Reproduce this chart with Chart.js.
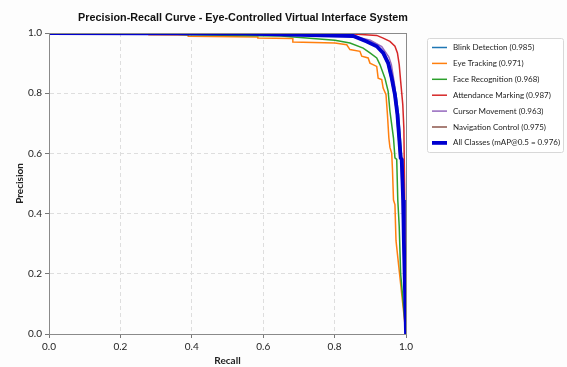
<!DOCTYPE html>
<html>
<head>
<meta charset="utf-8">
<script src="https://cdn.jsdelivr.net/npm/chart.js@4/dist/chart.umd.min.js"></script>
<style>
  html, body { margin: 0; padding: 0; background: #fdfdfd; }
  #wrap { width: 567px; height: 367px; position: relative; }
</style>
</head>
<body>
<div id="wrap"><canvas id="chart-pr"></canvas></div>
<script>
// Precision-Recall curves, values
const chartTitle = 'Precision-Recall Curve - Eye-Controlled Virtual Interface System';
const classNames = ['Blink Detection', 'Eye Tracking', 'Face Recognition', 'Attendance Marking',
    'Cursor Movement', 'Navigation Control'];
const classAP = [0.985, 0.971, 0.968, 0.987, 0.963, 0.975];
const mapAll = 0.976;

const xTicks = [0, 0.2, 0.4, 0.6, 0.8, 1.0];
const yTicks = [0, 0.2, 0.4, 0.6, 0.8, 1.0];

const blinkRecall    = [0, 0.6, 0.855, 0.893, 0.921, 0.939, 0.953, 0.963, 0.972, 0.979, 0.984, 0.988, 0.991, 0.994, 0.996, 1.0];
const blinkPrecision = [1, 0.998, 0.99, 0.972, 0.956, 0.934, 0.90, 0.85, 0.795, 0.729, 0.651, 0.585, 0.58, 0.445, 0.31, 0];

const eyeRecall    = [0, 0.1, 0.28, 0.28, 0.39, 0.39, 0.585, 0.585, 0.683, 0.683, 0.801, 0.834, 0.843, 0.871, 0.876, 0.894, 0.899, 0.918, 0.922, 0.932, 0.936, 0.944, 0.948, 0.952, 0.955, 0.96, 0.962, 0.965, 0.969, 0.972, 1.0];
const eyePrecision = [1, 0.999, 0.997, 0.994, 0.993, 0.989, 0.987, 0.983, 0.982, 0.97, 0.967, 0.961, 0.945, 0.939, 0.923, 0.917, 0.90, 0.889, 0.85, 0.845, 0.817, 0.795, 0.729, 0.651, 0.62, 0.6, 0.55, 0.445, 0.43, 0.31, 0];

const faceRecall    = [0, 0.3, 0.39, 0.585, 0.65, 0.801, 0.843, 0.88, 0.899, 0.918, 0.927, 0.941, 0.95, 0.955, 0.965, 0.969, 0.974, 0.977, 0.981, 0.985, 1.0];
const facePrecision = [1, 0.999, 0.994, 0.991, 0.99, 0.976, 0.967, 0.95, 0.934, 0.917, 0.895, 0.85, 0.806, 0.74, 0.651, 0.585, 0.58, 0.445, 0.357, 0.2, 0];

const attendRecall    = [0, 0.7, 0.852, 0.918, 0.936, 0.955, 0.969, 0.976, 0.981, 0.985, 0.991, 0.994, 0.996, 0.998, 1.0];
const attendPrecision = [1, 0.999, 0.997, 0.992, 0.983, 0.972, 0.956, 0.934, 0.895, 0.84, 0.762, 0.684, 0.5, 0.2, 0];

const cursorRecall    = [0, 0.6, 0.85, 0.9, 0.932, 0.952, 0.959, 0.968, 0.972, 0.978, 0.985, 0.988, 0.992, 0.994, 1.0];
const cursorPrecision = [1, 0.998, 0.99, 0.976, 0.955, 0.92, 0.895, 0.828, 0.762, 0.72, 0.585, 0.58, 0.445, 0.31, 0];

const navRecall    = [0, 0.55, 0.85, 0.888, 0.916, 0.934, 0.948, 0.958, 0.967, 0.974, 0.979, 0.983, 0.986, 0.99, 0.992, 1.0];
const navPrecision = [1, 0.998, 0.99, 0.972, 0.956, 0.934, 0.90, 0.85, 0.795, 0.729, 0.651, 0.585, 0.58, 0.445, 0.31, 0];

const allRecall    = [0, 0.55, 0.852, 0.89, 0.918, 0.936, 0.95, 0.96, 0.969, 0.976, 0.981, 0.985, 0.988, 0.992, 0.994, 1.0];
const allPrecision = [1, 0.998, 0.99, 0.972, 0.956, 0.934, 0.90, 0.85, 0.795, 0.729, 0.651, 0.585, 0.58, 0.445, 0.31, 0];

const classColors = ['#1f77b4', '#ff7f0e', '#2ca02c', '#d62728', '#9467bd', '#8c564b'];
const allColor = '#0000d0';

function toPoints(rs, ps) {
    return rs.map((r, i) => ({ x: r, y: ps[i] }));
}

const curves = [
    [blinkRecall, blinkPrecision],
    [eyeRecall, eyePrecision],
    [faceRecall, facePrecision],
    [attendRecall, attendPrecision],
    [cursorRecall, cursorPrecision],
    [navRecall, navPrecision]
];

const datasets = curves.map((c, i) => ({
    label: `${classNames[i]} (${classAP[i].toFixed(3)})`,
    data: toPoints(c[0], c[1]),
    borderColor: classColors[i],
    backgroundColor: classColors[i],
    borderWidth: 1.5,
    order: 6 - i
}));
datasets.push({
    label: `All Classes (mAP@0.5 = ${mapAll.toFixed(3)})`,
    data: toPoints(allRecall, allPrecision),
    borderColor: allColor,
    backgroundColor: allColor,
    borderWidth: 3.8,
    order: 0
});

// frame, title and legend box drawn like matplotlib
const framePlugin = {
    id: 'frame',
    afterDatasetsDraw(chart) {
        const { ctx, chartArea: a } = chart;
        ctx.save();
        ctx.strokeStyle = '#8a8a8a';
        ctx.lineWidth = 1;
        ctx.strokeRect(a.left + 0.5, a.top + 0.5, a.right - a.left, a.bottom - a.top);
        ctx.restore();
    },
    afterDraw(chart) {
        const { ctx } = chart;
        const ds = chart.data.datasets;
        ctx.save();
        ctx.fillStyle = '#111';
        ctx.font = 'bold 10.8px "Liberation Sans"';
        ctx.textAlign = 'center';
        ctx.textBaseline = 'middle';
        ctx.fillText(chartTitle, 243, 18);

        const bx = 427.5, by = 38.5, bw = 136, bh = 114;
        ctx.fillStyle = '#ffffff';
        ctx.strokeStyle = '#d8d8d8';
        ctx.lineWidth = 1;
        ctx.beginPath();
        ctx.roundRect(bx, by, bw, bh, 2);
        ctx.fill();
        ctx.stroke();
        ctx.font = '8px Lato';
        ctx.textAlign = 'left';
        ds.forEach((d, i) => {
            const y = 47.5 + i * 15.9;
            ctx.strokeStyle = d.borderColor;
            ctx.lineWidth = d.borderWidth;
            ctx.beginPath();
            ctx.moveTo(432, y);
            ctx.lineTo(447, y);
            ctx.stroke();
            ctx.fillStyle = '#222';
            ctx.fillText(d.label, 453, y);
        });
        ctx.restore();
    }
};

new Chart(document.getElementById('chart-pr'), {
    type: 'scatter',
    data: { datasets },
    options: {
        responsive: true,
        maintainAspectRatio: false,
        animation: false,
        elements: {
            point: { radius: 0 },
            line: { tension: 0 }
        },
        datasets: { scatter: { showLine: true } },
        layout: { padding: { left: 14, right: 161, top: 33, bottom: 0 } },
        plugins: {
            legend: { display: false },
            tooltip: { enabled: false },
            title: { display: false }
        },
        scales: {
            x: {
                type: 'linear',
                min: 0,
                max: 1,
                afterBuildTicks: s => { s.ticks = xTicks.map(v => ({ value: v })); },
                afterFit: s => { s.height = 33; },
                ticks: {
                    color: '#222',
                    font: { family: 'Lato', size: 10 },
                    padding: 3,
                    maxRotation: 0,
                    callback: v => v.toFixed(1)
                },
                grid: { color: '#dedede', tickColor: '#777', tickLength: 4, tickBorderDash: [] },
                border: { color: '#8a8a8a', dash: [4, 3] },
                title: {
                    display: true,
                    text: 'Recall',
                    color: '#222',
                    font: { family: 'Lato', size: 10, weight: 'bold' },
                    padding: { top: 0, bottom: 0 }
                }
            },
            y: {
                type: 'linear',
                min: 0,
                max: 1,
                afterBuildTicks: s => { s.ticks = yTicks.map(v => ({ value: v })); },
                afterFit: s => { s.width = 35; },
                ticks: {
                    color: '#222',
                    font: { family: 'Lato', size: 10 },
                    padding: 3,
                    callback: v => v.toFixed(1)
                },
                grid: { color: '#dedede', tickColor: '#777', tickLength: 4, tickBorderDash: [] },
                border: { color: '#8a8a8a', dash: [4, 3] },
                title: {
                    display: true,
                    text: 'Precision',
                    color: '#222',
                    font: { family: 'Lato', size: 10, weight: 'bold' },
                    padding: { top: 0, bottom: 2 }
                }
            }
        }
    },
    plugins: [framePlugin]
});
</script>
</body>
</html>
